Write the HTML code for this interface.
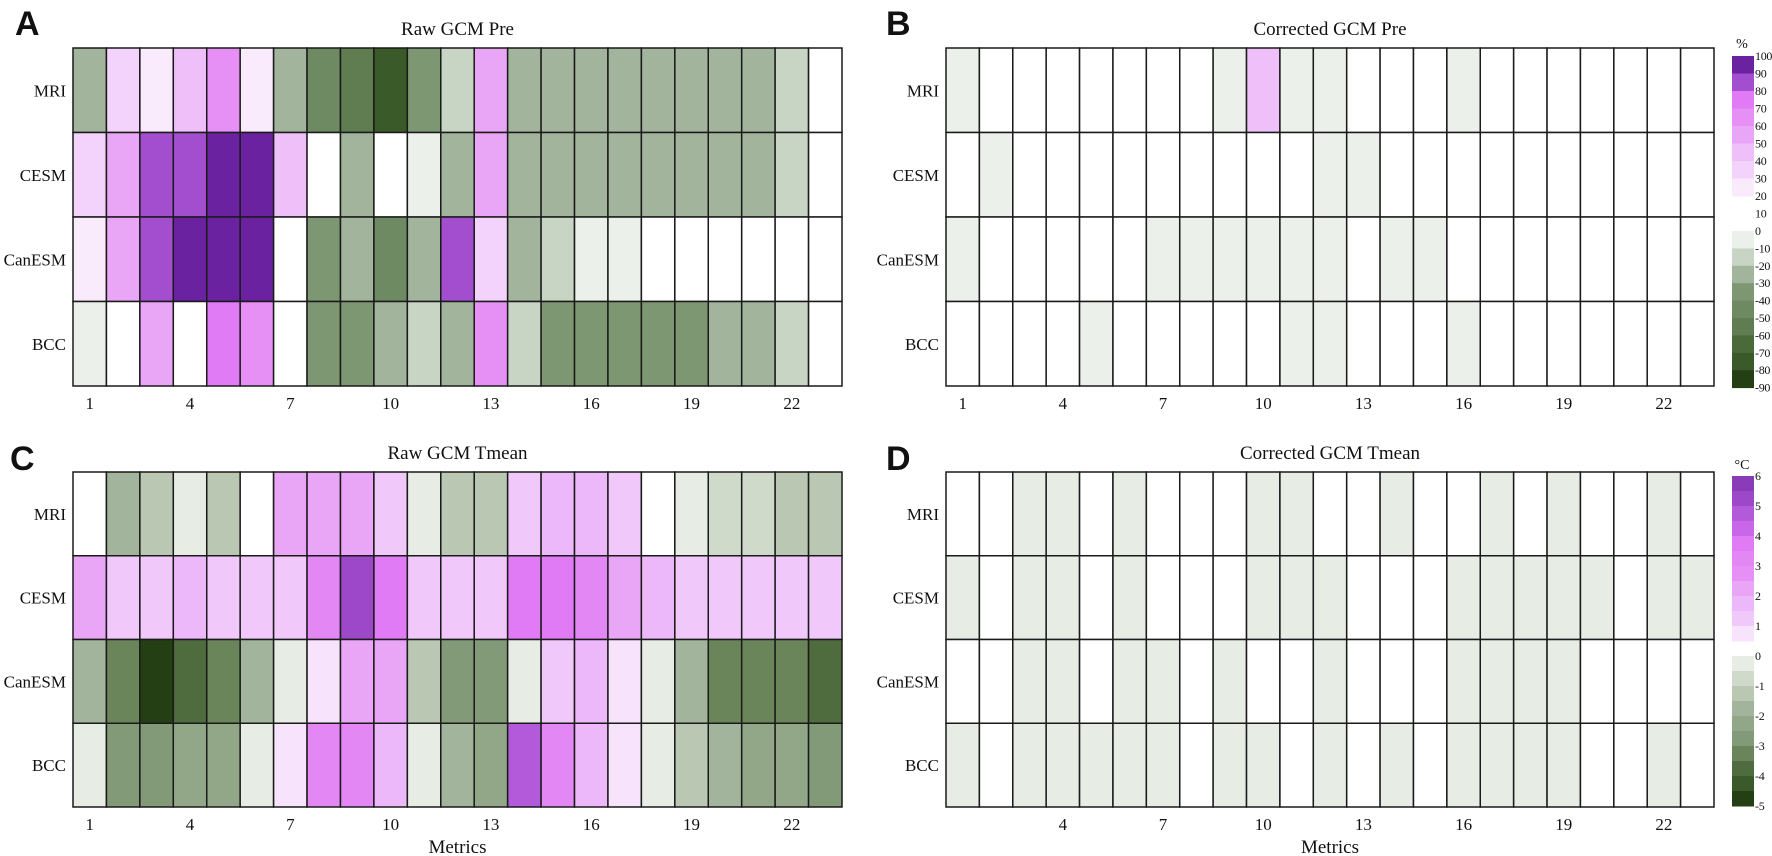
<!DOCTYPE html>
<html><head><meta charset="utf-8"><style>
html,body{margin:0;padding:0;background:#fff;}
svg{display:block;}
text{font-family:"Liberation Serif",serif;fill:#111;}
.lt{font-family:"Liberation Sans",sans-serif;font-weight:bold;font-size:34px;}
</style></head><body>
<svg id="fig" width="1772" height="856" viewBox="0 0 1772 856" xmlns="http://www.w3.org/2000/svg"></svg>
<script>
const models = ["MRI","CESM","CanESM","BCC"];
const metricTicksA = [1,4,7,10,13,16,19,22];
const metricTicksD = [4,7,10,13,16,19,22];
const rawPre = [
 [-25,35,25,45,65,25,-25,-45,-55,-75,-35,-15,55,-25,-25,-25,-25,-25,-25,-25,-25,-15,5],
 [35,55,85,85,95,95,45,5,-25,5,-5,-25,55,-25,-25,-25,-25,-25,-25,-25,-25,-15,5],
 [25,55,85,95,95,95,5,-35,-25,-45,-25,85,35,-25,-15,-5,-5,5,5,5,5,5,5],
 [-5,5,55,5,75,65,5,-35,-35,-25,-15,-25,65,-15,-35,-35,-35,-35,-35,-25,-25,-15,5]
];
const corrPre = [
 [-5,5,5,5,5,5,5,5,-5,45,-5,-5,5,5,5,-5,5,5,5,5,5,5,5],
 [5,-5,5,5,5,5,5,5,5,5,5,-5,-5,5,5,5,5,5,5,5,5,5,5],
 [-5,5,5,5,5,5,-5,-5,-5,-5,-5,-5,5,-5,-5,5,5,5,5,5,5,5,5],
 [5,5,5,5,-5,5,5,5,5,5,-5,-5,5,5,5,-5,5,5,5,5,5,5,5]
];
const rawTmean = [
 [0.2,-1.75,-1.25,-0.25,-1.25,0.2,2.25,2.25,2.25,1.25,-0.25,-1.25,-1.25,1.25,1.75,1.75,1.25,0.2,-0.25,-0.75,-0.75,-1.25,-1.25],
 [2.25,1.25,1.25,1.75,1.25,1.25,1.25,3.25,5.25,3.75,1.25,1.25,1.25,3.75,3.75,3.25,2.25,1.75,1.25,1.25,1.25,1.25,1.25],
 [-1.75,-3.25,-4.75,-3.75,-3.25,-1.75,-0.25,0.75,2.25,2.25,-1.25,-2.75,-2.75,-0.25,1.25,1.75,0.75,-0.25,-1.75,-3.25,-3.25,-3.25,-3.75],
 [-0.25,-2.75,-2.75,-2.25,-2.25,-0.25,0.75,3.25,3.25,1.75,-0.25,-1.75,-2.25,4.75,3.25,1.75,0.75,-0.25,-1.25,-1.75,-2.25,-2.25,-2.75]
];
const corrTmean = [
 [0.2,0.2,-0.2,-0.2,0.2,-0.2,0.2,0.2,0.2,-0.2,-0.2,0.2,0.2,-0.2,0.2,0.2,-0.2,0.2,-0.2,0.2,0.2,-0.2,0.2],
 [-0.2,0.2,-0.2,-0.2,0.2,-0.2,0.2,0.2,0.2,-0.2,-0.2,-0.2,0.2,0.2,0.2,-0.2,-0.2,-0.2,-0.2,-0.2,0.2,-0.2,-0.2],
 [0.2,0.2,-0.2,-0.2,0.2,-0.2,-0.2,0.2,-0.2,0.2,0.2,-0.2,0.2,0.2,0.2,-0.2,-0.2,-0.2,-0.2,0.2,0.2,0.2,0.2],
 [-0.2,0.2,-0.2,-0.2,-0.2,-0.2,-0.2,0.2,-0.2,-0.2,0.2,-0.2,0.2,-0.2,0.2,-0.2,-0.2,-0.2,-0.2,0.2,0.2,-0.2,0.2]
];
const preCbLabels = [100,90,80,70,60,50,40,30,20,10,0,-10,-20,-30,-40,-50,-60,-70,-80,-90];
const tCbLabels = [6,5,4,3,2,1,0,-1,-2,-3,-4,-5];

const prePink = ["#f9eafc","#f3d3fb","#efbff9","#e9a6f7","#e690f5","#e07af5","#a24ecf","#6a22a0"];
const preGreen = ["#ecf0ea","#c8d4c4","#a2b49c","#7e9773","#6e8a62","#5f7d50","#4b6a3a","#3a5a2a","#253f14"];
const tPink = ["#f7e4fc","#f0c9fa","#edb8f9","#e9a6f7","#e690f5","#e387f5","#e07af5","#c868e8","#b25ad9","#9c48c8","#8a3cb8"];
const tGreen = ["#e7ece5","#cfdacb","#b9c7b3","#a2b49c","#91a787","#829a77","#6a855a","#4f6c3e","#3a5a2a","#253f14"];

function preColor(v){
  if(v>=20){return prePink[Math.min(7,Math.floor((v-20)/10))];}
  if(v>=0) return "#ffffff";
  return preGreen[Math.min(8,Math.floor(-v/10))];
}
function tColor(v){
  if(v>=0.5){return tPink[Math.min(10,Math.floor((v-0.5)/0.5))];}
  if(v>=0) return "#ffffff";
  return tGreen[Math.min(9,Math.floor(-v/0.5))];
}

const NS="http://www.w3.org/2000/svg";
const svg=document.getElementById('fig');
function mk(tag,attrs,parent){const e=document.createElementNS(NS,tag);for(const k in attrs)e.setAttribute(k,attrs[k]);(parent||svg).appendChild(e);return e;}

const NC=23;
function panel(cfg){
  const g=mk('g',{});
  
  
  const cw=(cfg.x1-cfg.x0)/NC, rh=(cfg.y1-cfg.y0)/models.length;
  const xs=i=>cfg.x0+i*cw, ys=j=>cfg.y0+j*rh;
  cfg.data.forEach((row,j)=>row.forEach((v,i)=>{
    const r=mk('rect',{x:xs(i),y:ys(j),width:cw,height:rh,fill:cfg.color(v),stroke:'#1a1a1a','stroke-width':1.5},g);
    
    
  }));
  models.forEach((m,j)=>{
    const t=mk('text',{x:cfg.x0-7,y:ys(j)+rh/2+6,'text-anchor':'end','font-size':17},g);
    t.textContent=m;
    
    
  });
  cfg.ticks.forEach(k=>{
    const t=mk('text',{x:xs(k-1)+cw/2,y:cfg.y1+23,'text-anchor':'middle','font-size':17},g);
    t.textContent=k;
    
    
  });
  const tt=mk('text',{x:(cfg.x0+cfg.x1)/2,y:cfg.y0-13,'text-anchor':'middle','font-size':19},g);
  tt.textContent=cfg.title;
  
  
  const lt=mk('text',{x:cfg.lx,y:cfg.ly,class:'lt'},g);
  lt.textContent=cfg.letter;
  
  
  if(cfg.xlabel){
    const xl=mk('text',{x:(cfg.x0+cfg.x1)/2,y:cfg.y1+46,'text-anchor':'middle','font-size':19},g);
    xl.textContent='Metrics';
    
    
  }
}
panel({name:'panel-a-raw-pre',x0:73,x1:842,y0:48,y1:386,data:rawPre,color:preColor,ticks:metricTicksA,title:'Raw GCM Pre',letter:'A',lx:15,ly:35});
panel({name:'panel-b-corrected-pre',x0:946,x1:1714,y0:48,y1:386,data:corrPre,color:preColor,ticks:metricTicksA,title:'Corrected GCM Pre',letter:'B',lx:886,ly:35});
panel({name:'panel-c-raw-tmean',x0:73,x1:842,y0:472,y1:807,data:rawTmean,color:tColor,ticks:metricTicksA,title:'Raw GCM Tmean',letter:'C',lx:10,ly:470,xlabel:true});
panel({name:'panel-d-corrected-tmean',x0:946,x1:1714,y0:472,y1:807,data:corrTmean,color:tColor,ticks:metricTicksD,title:'Corrected GCM Tmean',letter:'D',lx:886,ly:470,xlabel:true});

function colorbar(name,unit,top,pink,green,pinkTop,pinkStep,greenTop,greenStep,labels,labelY){
  const g=mk('g',{});
  
  
  const x=1732,w=22;
  for(let i=0;i<pink.length;i++){
    const r=mk('rect',{x:x,y:pinkTop+i*pinkStep,width:w,height:pinkStep+0.5,fill:pink[pink.length-1-i]},g);
    
    
  }
  for(let i=0;i<green.length;i++){
    const r=mk('rect',{x:x,y:greenTop+i*greenStep,width:w,height:greenStep+0.5,fill:green[i]},g);
    
    
  }
  const u=mk('text',{x:x+10,y:top,'text-anchor':'middle','font-size':14},g);
  u.textContent=unit;
  
  
  labels.forEach((l,i)=>{
    const t=mk('text',{x:x+w+1,y:labelY(i)+4,'font-size':12,'letter-spacing':'-0.3'},g);
    t.textContent=l;
    
    
  });
}
colorbar('pre-colorbar','%',48,prePink,preGreen,56,17.5,231,17.4,preCbLabels,i=> i<10 ? 56+i*17.5 : 231+(i-10)*17.4);
colorbar('tmean-colorbar','°C',469,tPink,tGreen,476,15,656,15,tCbLabels,i=> i<6 ? 476+i*30 : 656+(i-6)*30);
</script>
</body></html>
